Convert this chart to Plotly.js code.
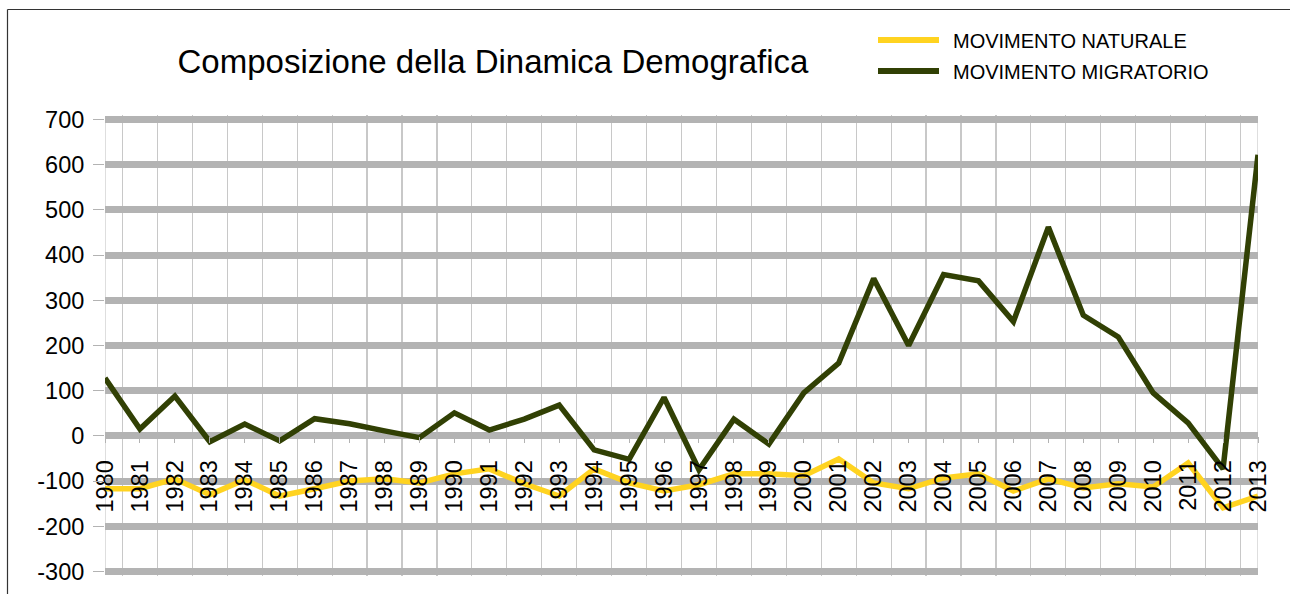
<!DOCTYPE html>
<html>
<head>
<meta charset="utf-8">
<script src="https://cdn.plot.ly/plotly-3.0.1.min.js"></script>
<style>
  html, body { margin: 0; padding: 0; background: #fff; }
  #chart { width: 1290px; height: 594px; }
</style>
</head>
<body>
<div id="chart"></div>
<script>
const years = [1980,1981,1982,1983,1984,1985,1986,1987,1988,1989,1990,1991,1992,1993,1994,1995,1996,1997,1998,1999,2000,2001,2002,2003,2004,2005,2006,2007,2008,2009,2010,2011,2012,2013];
const yearLabels = years.map(String);
const movimentoNaturale = [-117,-117,-95,-130,-97,-133,-117,-100,-95,-104,-84,-73,-106,-133,-73,-104,-122,-108,-84,-84,-88,-51,-104,-117,-93,-84,-122,-95,-115,-106,-113,-60,-159,-133];
const movimentoMigratorio = [128,15,88,-13,26,-11,38,27,11,-4,51,13,37,68,-31,-52,85,-75,37,-18,95,161,348,200,357,343,253,462,267,219,95,29,-73,622];
const yTicks = [-300,-200,-100,0,100,200,300,400,500,600,700];
const seriesNames = ['MOVIMENTO NATURALE', 'MOVIMENTO MIGRATORIO'];
const seriesColors = ['#ffd320', '#314004'];

const FONT = 'Liberation Sans, Arial, sans-serif';
const W = 1290, H = 594;
// pixel positions of the outer gridlines (700 and -300) in the original
const yTopPx = 120, yBotPx = 571;
const pad = 10; // value units of padding beyond the outer gridlines
const yMin = yTicks[0] - pad, yMax = yTicks[yTicks.length - 1] + pad;
const pxPerUnit = (yBotPx - yTopPx) / (yTicks[yTicks.length - 1] - yTicks[0]);
const M = {l: 105, r: 32, t: Math.round(yTopPx - pad * pxPerUnit), b: Math.round(H - yBotPx - pad * pxPerUnit)};
const plotW = W - M.l - M.r, plotH = H - M.t - M.b;
const px2paperX = p => (p - M.l) / plotW;
const px2paperY = p => (H - M.b - p) / plotH;

const traces = [
  {x: years, y: movimentoNaturale, name: seriesNames[0], type: 'scatter', mode: 'lines',
   line: {color: seriesColors[0], width: 5.5}},
  {x: years, y: movimentoMigratorio, name: seriesNames[1], type: 'scatter', mode: 'lines',
   line: {color: seriesColors[1], width: 5.5}}
];

// manual legend (long line keys like the original)
const legendRowsY = [40, 71];
const legendShapes = seriesNames.map((n, i) => ({
  type: 'line', xref: 'paper', yref: 'paper',
  x0: px2paperX(878), x1: px2paperX(939), y0: px2paperY(legendRowsY[i]), y1: px2paperY(legendRowsY[i]),
  line: {color: seriesColors[i], width: 6}
}));
const legendTexts = seriesNames.map((n, i) => ({
  text: n, xref: 'paper', yref: 'paper', x: px2paperX(951), y: px2paperY(legendRowsY[i] + 1),
  xanchor: 'left', yanchor: 'middle', showarrow: false,
  font: {family: FONT, size: 20, color: '#000'}
}));

const layout = {
  width: W, height: H,
  margin: M,
  paper_bgcolor: '#ffffff', plot_bgcolor: '#ffffff',
  font: {family: FONT, color: '#000'},
  title: {text: 'Composizione della Dinamica Demografica', font: {family: FONT, size: 33, color: '#000'},
          xref: 'container', x: 493 / W, xanchor: 'center', yref: 'container', y: (H - 61) / H, yanchor: 'middle'},
  showlegend: false,
  xaxis: {
    type: 'linear', range: [years[0], years[years.length - 1]],
    tickmode: 'array', tickvals: years, ticktext: yearLabels, tickangle: -90,
    tickfont: {family: FONT, size: 23.5, color: '#000'},
    ticks: 'outside', ticklen: 6, tickwidth: 1, tickcolor: '#b3b3b3', ticklabelstandoff: 8,
    showgrid: false, zeroline: false, showline: false,
    anchor: 'free', position: (0 - yMin) / (yMax - yMin),
    minor: {tick0: years[0] + 0.5, dtick: 1, showgrid: true, gridcolor: '#c8c8c8', gridwidth: 1.2, ticks: ''}
  },
  yaxis: {
    range: [yMin, yMax], tickmode: 'array', tickvals: yTicks, ticktext: yTicks.map(String),
    tickfont: {family: FONT, size: 23.5, color: '#000'},
    ticks: 'outside', ticklen: 11, tickwidth: 1, tickcolor: '#b3b3b3', ticklabelstandoff: 4,
    showgrid: true, gridcolor: '#b3b3b3', gridwidth: 7,
    zeroline: false, showline: false
  },
  annotations: legendTexts,
  shapes: [
    {type: 'line', xref: 'paper', yref: 'paper', x0: px2paperX(7.5), x1: px2paperX(1300), y0: px2paperY(9.5), y1: px2paperY(9.5),
     line: {color: '#333333', width: 1.2}},
    {type: 'line', xref: 'paper', yref: 'paper', x0: px2paperX(7.5), x1: px2paperX(7.5), y0: px2paperY(9.5), y1: px2paperY(600),
     line: {color: '#333333', width: 1.2}},
    // plot-area side borders, spanning the outer gridlines only
    {type: 'line', xref: 'x', yref: 'y', x0: years[0], x1: years[0], y0: yTicks[0], y1: yTicks[yTicks.length - 1],
     line: {color: '#c8c8c8', width: 1.2}, layer: 'below'},
    {type: 'line', xref: 'x', yref: 'y', x0: years[years.length - 1], x1: years[years.length - 1], y0: yTicks[0], y1: yTicks[yTicks.length - 1],
     line: {color: '#c8c8c8', width: 1.2}, layer: 'below'}
  ].concat(legendShapes)
};

Plotly.newPlot('chart', traces, layout, {staticPlot: true, displayModeBar: false});
</script>
</body>
</html>
